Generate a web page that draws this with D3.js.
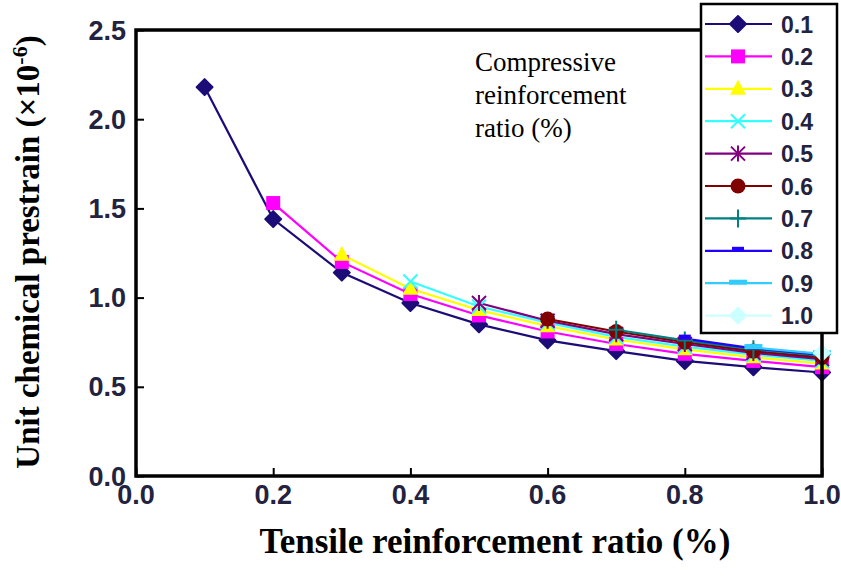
<!DOCTYPE html>
<html><head><meta charset="utf-8">
<script src="https://cdn.jsdelivr.net/npm/d3@7"></script>
<style>body{margin:0;background:#fff}</style>
</head><body>
<svg id="chart" width="841" height="585"></svg>
<script>
// ---- data ----
const tensileRatio = [0.1,0.2,0.3,0.4,0.5,0.6,0.7,0.8,0.9,1.0];
const compressiveRatio = ["0.1","0.2","0.3","0.4","0.5","0.6","0.7","0.8","0.9","1.0"];
const s01 = [2.18,1.44,1.14,0.97,0.85,0.76,0.70,0.645,0.61,0.58];
const s02 = [null,1.53,1.20,1.02,0.90,0.81,0.74,0.685,0.645,0.61];
const s03 = [null,null,1.24,1.05,0.93,0.84,0.765,0.71,0.665,0.63];
const s04 = [null,null,null,1.09,0.95,0.86,0.78,0.725,0.68,0.645];
const s05 = [null,null,null,null,0.97,0.87,0.795,0.74,0.69,0.655];
const s06 = [null,null,null,null,null,0.88,0.81,0.75,0.70,0.665];
const s07 = [null,null,null,null,null,null,0.82,0.76,0.71,0.675];
const s08 = [null,null,null,null,null,null,null,0.77,0.715,0.68];
const s09 = [null,null,null,null,null,null,null,null,0.72,0.685];
const s10 = [null,null,null,null,null,null,null,null,null,0.69];
const seriesValues = [s01,s02,s03,s04,s05,s06,s07,s08,s09,s10];
const colors = ["#1c0c78","#ff00ff","#ffff00","#33ffff","#800080","#800000","#008080","#2200ff","#33ccff","#ccffff"];
const markers = ["diamond","square","triangle","x","star","circle","plus","dash","dash2","diamond"];
const xTicks = [0.0,0.2,0.4,0.6,0.8,1.0];
const yTicks = [0.0,0.5,1.0,1.5,2.0,2.5];

// ---- layout ----
const svg = d3.select("#chart");
const L = 136, R = 822, T = 30, B = 476;
const x = d3.scaleLinear().domain([0,1]).range([L,R]);
const y = d3.scaleLinear().domain([0,2.5]).range([B,T]);

function marker(g, type, color, cx, cy) {
  const s = 7;
  if (type === "diamond") {
    g.append("path").attr("d",`M${cx},${cy-8}L${cx+8},${cy}L${cx},${cy+8}L${cx-8},${cy}Z`)
      .attr("fill",color).attr("stroke",color).attr("stroke-width",2).attr("stroke-linejoin","round");
  } else if (type === "square") {
    g.append("rect").attr("x",cx-7).attr("y",cy-7).attr("width",14).attr("height",14).attr("fill",color);
  } else if (type === "triangle") {
    g.append("path").attr("d",`M${cx},${cy-9}L${cx+8},${cy+6}L${cx-8},${cy+6}Z`).attr("fill",color);
  } else if (type === "x") {
    g.append("path").attr("d",`M${cx-s},${cy-s}L${cx+s},${cy+s}M${cx-s},${cy+s}L${cx+s},${cy-s}`).attr("stroke",color).attr("stroke-width",2);
  } else if (type === "star") {
    g.append("path").attr("d",`M${cx-s},${cy-s}L${cx+s},${cy+s}M${cx-s},${cy+s}L${cx+s},${cy-s}M${cx},${cy-s-1}L${cx},${cy+s+1}`).attr("stroke",color).attr("stroke-width",2);
  } else if (type === "circle") {
    g.append("circle").attr("cx",cx).attr("cy",cy).attr("r",7.5).attr("fill",color);
  } else if (type === "plus") {
    g.append("path").attr("d",`M${cx},${cy-9}L${cx},${cy+9}M${cx-8},${cy}L${cx+8},${cy}`).attr("stroke",color).attr("stroke-width",2);
  } else if (type === "dash") {
    g.append("rect").attr("x",cx-6).attr("y",cy-4).attr("width",12).attr("height",5).attr("fill",color);
  } else if (type === "dash2") {
    g.append("rect").attr("x",cx-9).attr("y",cy-3.5).attr("width",18).attr("height",5).attr("fill",color);
  }
}

// ---- series ----
const line = d3.line().defined(d => d.v != null).x(d => x(d.t)).y(d => y(d.v));
const plot = svg.append("g");
seriesValues.forEach((vals, i) => {
  const pts = tensileRatio.map((t, j) => ({t, v: vals[j]}));
  plot.append("path").attr("d", line(pts)).attr("fill","none").attr("stroke",colors[i]).attr("stroke-width",2.2);
});
seriesValues.forEach((vals, i) => {
  const g = plot.append("g");
  tensileRatio.forEach((t, j) => {
    if (vals[j] != null) marker(g, markers[i], colors[i], x(t), y(vals[j]));
  });
});

// ---- frame & axes ----
svg.append("rect").attr("x",L).attr("y",T).attr("width",R-L).attr("height",B-T)
  .attr("fill","none").attr("stroke","#000").attr("stroke-width",3.5);

const xAxis = d3.axisTop(x).tickValues(xTicks).tickSize(8).tickFormat("");
svg.append("g").attr("transform",`translate(0,${B})`).call(xAxis)
  .call(g => { g.select(".domain").remove(); g.selectAll("line").attr("stroke","#000").attr("stroke-width",2); });
const yAxis = d3.axisRight(y).tickValues(yTicks).tickSize(8).tickFormat("");
svg.append("g").attr("transform",`translate(${L},0)`).call(yAxis)
  .call(g => { g.select(".domain").remove(); g.selectAll("line").attr("stroke","#000").attr("stroke-width",2); });

const lblFont = "'Liberation Sans', Arial, sans-serif";
svg.append("g").selectAll("text").data(xTicks).join("text")
  .attr("x", d => x(d)).attr("y", 504).attr("text-anchor","middle")
  .attr("font-family", lblFont).attr("font-weight","bold").attr("font-size", 27).attr("fill","#23233f")
  .text(d => d.toFixed(1));
svg.append("g").selectAll("text").data(yTicks).join("text")
  .attr("x", 126).attr("y", d => y(d) + 9.5).attr("text-anchor","end")
  .attr("font-family", lblFont).attr("font-weight","bold").attr("font-size", 27).attr("fill","#23233f")
  .text(d => d.toFixed(1));

// ---- titles ----
const serif = "'Liberation Serif','Times New Roman',serif";
svg.append("text").attr("x", 495).attr("y", 553).attr("text-anchor","middle")
  .attr("font-family", serif).attr("font-weight","bold").attr("font-size", 35)
  .text("Tensile reinforcement ratio (%)");
const yt = svg.append("text").attr("transform","translate(39,252) rotate(-90)").attr("text-anchor","middle")
  .attr("font-family", serif).attr("font-weight","bold").attr("font-size", 33);
yt.append("tspan").text("Unit chemical prestrain (×10");
yt.append("tspan").attr("dy",-12).attr("font-size",22).text("-6");
yt.append("tspan").attr("dy",12).text(")");

const note = ["Compressive","reinforcement","ratio (%)"];
svg.append("g").selectAll("text").data(note).join("text")
  .attr("x", 475).attr("y", (d,i) => 71 + i*33)
  .attr("font-family", serif).attr("font-size", 27).attr("fill","#000")
  .text(d => d);

// ---- legend ----
const lg = svg.append("g");
lg.append("rect").attr("x",701).attr("y",4).attr("width",136).attr("height",329)
  .attr("fill","#fff").attr("stroke","#000").attr("stroke-width",2.5);
compressiveRatio.forEach((name, i) => {
  const ly = 24 + i*32.4;
  lg.append("line").attr("x1",705).attr("x2",772).attr("y1",ly).attr("y2",ly).attr("stroke",colors[i]).attr("stroke-width",2.2);
  marker(lg, markers[i], colors[i], 738, ly);
  lg.append("text").attr("x",781).attr("y",ly+8.5).attr("font-family",lblFont).attr("font-weight","bold").attr("font-size",23).attr("fill","#23233f").text(name);
});
</script>
</body></html>
